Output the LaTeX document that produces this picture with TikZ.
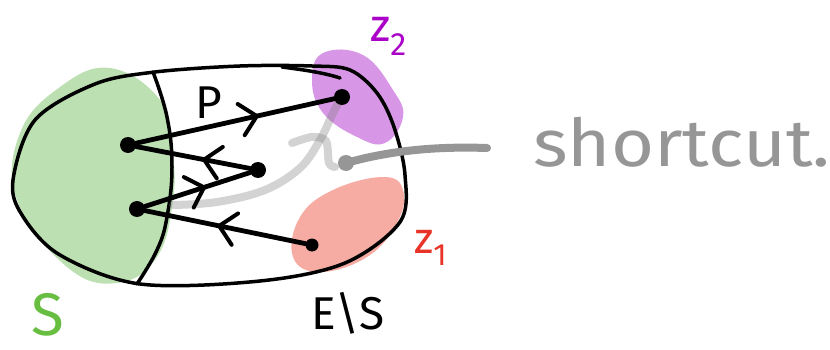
\documentclass[tikz,border=0pt]{standalone}
\usepackage{fontspec}
\setmainfont{Fira Sans}
\usetikzlibrary{arrows.meta,decorations.markings}
\definecolor{sgreen}{RGB}{188,224,178}
\definecolor{zpurple}{RGB}{216,150,230}
\definecolor{zred}{RGB}{246,172,162}
\definecolor{tgreen}{RGB}{104,190,64}
\definecolor{tpurple}{RGB}{170,0,200}
\definecolor{tred}{RGB}{232,52,40}
\definecolor{dgrey}{RGB}{150,150,150}
\tikzset{
  dot/.style={circle,fill=black,inner sep=0pt,minimum size=16pt},
  gdot/.style={circle,fill=dgrey,inner sep=0pt,minimum size=16pt},
  outline/.style={line width=3.5pt,line cap=round,line join=round},
  pathedge/.style={line width=4.8pt,line cap=round},
  chev/.style={postaction={decorate,decoration={markings,
    mark=at position #1 with {\arrow{Straight Barb[round,length=16pt,width=32pt,line width=4pt]}}}}},
  lab/.style={inner sep=0pt}
}
\begin{document}
\begin{tikzpicture}[x=1pt,y=-1pt]
\useasboundingbox (0,0) rectangle (830,350);
% blobs
\fill[sgreen] plot[smooth cycle,tension=0.7] coordinates {(110,68) (160,100) (172,150) (173,200) (157,257) (117,283) (67,267) (17,200) (20,133) (60,87)};
\fill[zpurple] plot[smooth cycle,tension=0.7] coordinates {(323,53) (363,55) (393,90) (403,117) (385,143) (357,137) (323,113) (312,80)};
\fill[zred] plot[smooth cycle,tension=0.7] coordinates {(293,257) (300,217) (333,190) (383,177) (403,190) (397,223) (367,257) (320,272)};
% outline of E
\draw[outline] plot[smooth cycle,tension=0.55] coordinates {(13,180) (35,120) (95,84) (155,72) (240,66) (312,66) (350,70) (377,93) (394,127) (405,175) (400,222) (345,263) (260,281) (140,284) (60,255) (22,215)};
\draw[outline] (282,67) .. controls (305,70) and (325,73) .. (340,78);
% divider
\draw[outline] plot[smooth,tension=0.7] coordinates {(153,72) (167,117) (172,167) (167,217) (157,250) (137,284)};
% shortcut (light grey)
\draw[gray,opacity=0.35,line width=8pt,line cap=round,line join=round]
  plot[smooth,tension=0.6] coordinates {(173,205) (217,202) (265,190) (300,168) (320,140) (333,113) (340,100)};
\draw[gray,opacity=0.35,line width=8pt,line cap=round,line join=round]
  plot[smooth,tension=0.5] coordinates {(292,143) (312,137) (326,141) (329,163) (335,167)};
% pointer (dark grey)
\node[gdot] (g) at (346,163) {};
\coordinate (gend) at (487,148);
\draw[dgrey,line width=8pt,line cap=round] (g.center) .. controls (385,152) and (430,146) .. (gend);
% dots
\node[dot] (a) at (128,145) {};
\node[dot] (b) at (137,209) {};
\node[dot] (c) at (258,170) {};
\node[dot] (p2) at (342,97) {};
\node[dot,minimum size=13pt] (p1) at (312,245) {};
% path P
\draw[pathedge,chev=0.62] (a) -- (p2);
\draw[pathedge,chev=0.42] (c) -- (a);
\draw[pathedge,chev=0.58] (b) -- (c);
\draw[pathedge,chev=0.55] (p1) -- (b);
% labels
\node[lab,font=\fontsize{46}{46}\selectfont] (lp) at (209,103) {P};
\node[lab,font=\fontsize{60}{60}\selectfont,text=tgreen] (ls) at (48,315) {S};
\node[lab,font=\fontsize{46}{46}\selectfont] (les) at (348,313) {E\textbackslash S};
\node[lab,font=\fontsize{46}{46}\selectfont,text=tpurple,anchor=base west] (lz2) at (370,42) {z\textsubscript{2}};
\node[lab,font=\fontsize{44}{44}\selectfont,text=tred,anchor=base west] (lz1) at (414,253) {z\textsubscript{1}};
\node[lab,font=\fontsize{66}{66}\selectfont,text=dgrey,anchor=base west,xscale=1.12] (lsc) at (533,166) {shortcut.};
\end{tikzpicture}
\end{document}
